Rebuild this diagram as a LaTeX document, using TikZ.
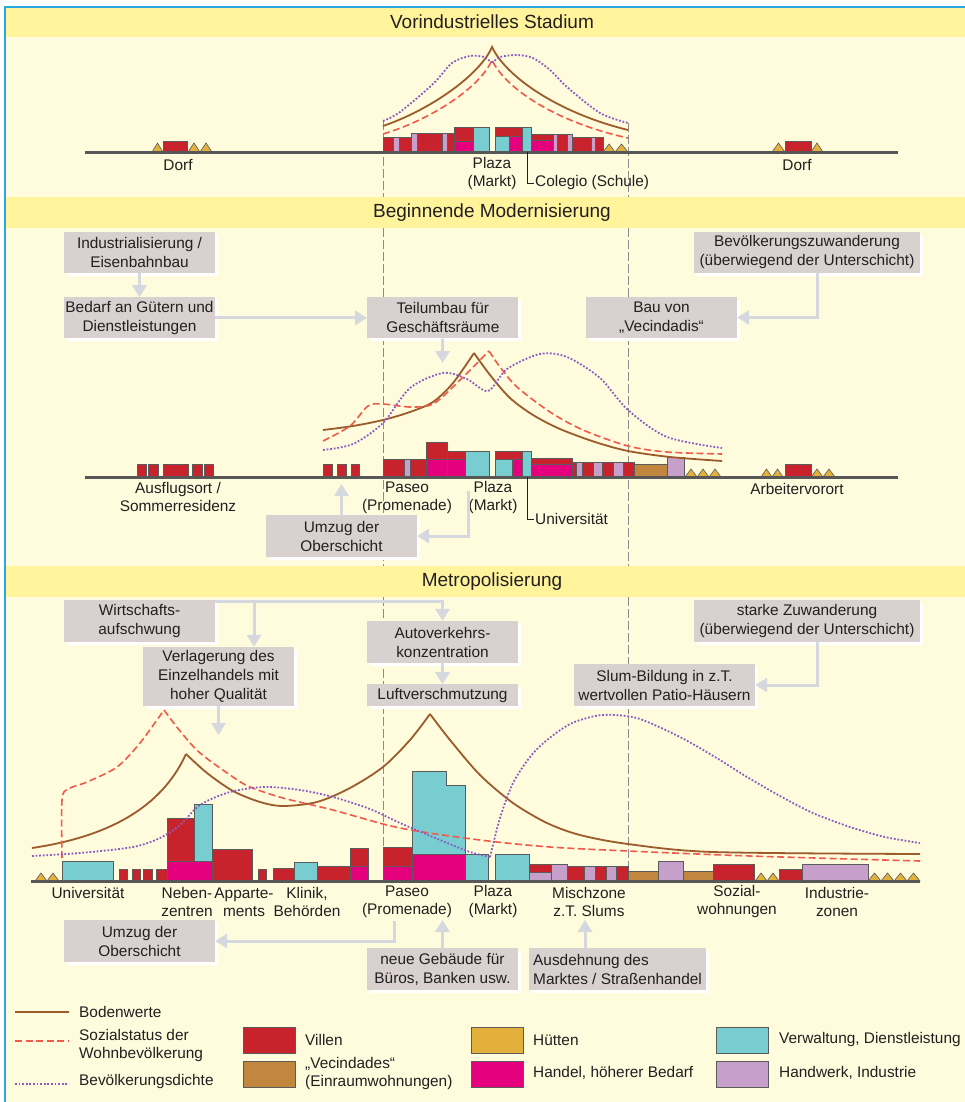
\documentclass[tikz,border=0pt]{standalone}
\usepackage{fontspec}
\setmainfont{Liberation Sans}
\usetikzlibrary{positioning,arrows.meta,shadows}

\definecolor{bgc}{HTML}{FFFBDD}
\definecolor{bandc}{HTML}{FFF49C}
\definecolor{framec}{HTML}{2AA8E0}
\definecolor{boxc}{HTML}{D9D1CF}
\definecolor{arrc}{HTML}{D5D8DF}
\definecolor{textc}{HTML}{231F20}
\definecolor{villac}{HTML}{C8232C}
\definecolor{handelc}{HTML}{E5007D}
\definecolor{verwc}{HTML}{78CDD0}
\definecolor{handwc}{HTML}{C6A0CA}
\definecolor{vecc}{HTML}{C2873E}
\definecolor{huetc}{HTML}{E3B03C}
\definecolor{edgec}{HTML}{5B5B5B}
\definecolor{groundc}{HTML}{575757}
\definecolor{sepc}{HTML}{8C8C8C}
\definecolor{bodenc}{HTML}{9B5B2B}
\definecolor{sozc}{HTML}{F15A4B}
\definecolor{dichtec}{HTML}{8A5CC2}

\newcommand{\lblfont}{\fontsize{15.4}{18}\selectfont}
\newcommand{\boxfont}{\fontsize{15.4}{19}\selectfont}
\newcommand{\titlefont}{\fontsize{19}{22}\selectfont}

\begin{document}
\begin{tikzpicture}[x=1pt, y=-1pt,
    box/.style = {fill=boxc, text=textc, align=center, inner sep=0pt, font=\boxfont,
      minimum width=151pt, minimum height=41pt,
      drop shadow={shadow xshift=3pt, shadow yshift=-3pt, fill=white, opacity=1}},
    lbl/.style = {text=textc, align=center, inner sep=1pt, font=\lblfont},
    titel/.style = {text=textc, font=\titlefont, inner sep=0pt},
    arr/.style = {draw=arrc, line width=3pt, -{Triangle[width=14pt,length=12pt]}},
    leader/.style = {draw=textc, line width=0.9pt},
    ground/.style = {draw=groundc, line width=2.2pt},
    sep/.style = {draw=sepc, line width=0.8pt, dash pattern=on 9pt off 3pt},
    boden/.style = {draw=bodenc, line width=1.8pt},
    sozial/.style = {draw=sozc, line width=1.6pt, dash pattern=on 7pt off 3.5pt},
    dichte/.style = {draw=dichtec, line width=1.8pt, dash pattern=on 1.8pt off 1.8pt},
    villa/.style = {fill=villac, draw=edgec, line width=0.7pt},
    handel/.style = {fill=handelc, draw=edgec, line width=0.7pt},
    verw/.style = {fill=verwc, draw=edgec, line width=0.7pt},
    handw/.style = {fill=handwc, draw=edgec, line width=0.7pt},
    vec/.style = {fill=vecc, draw=edgec, line width=0.7pt},
    huet/.style = {fill=huetc, draw=edgec, line width=0.6pt}]

    \useasboundingbox (0,0) rectangle (965,1102);
    \fill[white] (0,0) rectangle (965,1102);
    \fill[bgc] (5,7) rectangle (965,1102);
    \fill[bandc] (5,7) rectangle (965,37);
    \fill[bandc] (5,197) rectangle (965,228);
    \fill[bandc] (5,566) rectangle (965,597);
    \draw[framec, line width=1.5pt] (5,1102) -- (5,7) -- (965,7);

    \node[titel] (t_1) at (492,22) {Vorindustrielles Stadium};
    \node[titel] (t_2) at (492,213) {Beginnende Modernisierung};
    \node[titel] (t_3) at (492,582) {Metropolisierung};

    % Trennlinien
    \draw[sep] (383,121) -- (383,197);
    \draw[sep] (628,123) -- (628,197);
    \draw[sep] (383,228) -- (383,566);
    \draw[sep] (628,228) -- (628,566);
    \draw[sep] (383,597) -- (383,881);
    \draw[sep] (628,597) -- (628,881);

    % Vorindustrielles Stadium
    \filldraw[huet] (152,152) -- (157.5,143) -- (163,152) -- cycle;
    \filldraw[villa] (163,141) rectangle (187,152);
    \filldraw[huet] (188,152) -- (194,143) -- (200,152) -- (206,143) -- (212,152) -- cycle;
    \filldraw[villa] (383,137) rectangle (393,152);
    \filldraw[handw] (393,137) rectangle (399,152);
    \filldraw[villa] (399,137) rectangle (411,152);
    \filldraw[handw] (411,133) rectangle (417,152);
    \filldraw[villa] (417,133) rectangle (442,152);
    \filldraw[handw] (442,133) rectangle (447,152);
    \filldraw[villa] (447,133) rectangle (454,152);
    \filldraw[villa] (454,127) rectangle (473,141);
    \filldraw[handel] (454,141) rectangle (473,152);
    \filldraw[verw] (473,127) rectangle (489,152);
    \filldraw[villa] (495,127) rectangle (522,136);
    \filldraw[verw] (495,136) rectangle (509,152);
    \filldraw[handel] (509,136) rectangle (522,152);
    \filldraw[verw] (522,127) rectangle (531,152);
    \filldraw[villa] (531,134) rectangle (553,140);
    \filldraw[handel] (531,140) rectangle (553,152);
    \filldraw[handw] (553,134) rectangle (557,152);
    \filldraw[villa] (557,134) rectangle (567,152);
    \filldraw[handw] (567,134) rectangle (572,152);
    \filldraw[villa] (572,137) rectangle (591,152);
    \filldraw[handw] (591,137) rectangle (595,152);
    \filldraw[villa] (595,137) rectangle (603,152);
    \filldraw[huet] (603,152) -- (609,144) -- (615,152) -- (621.5,144) -- (628,152) -- cycle;
    \filldraw[huet] (772,152) -- (778.5,143) -- (785,152) -- cycle;
    \filldraw[villa] (785,141) rectangle (811,152);
    \filldraw[huet] (811,152) -- (817,143) -- (823,152) -- cycle;
    \draw[ground] (85,152.5) -- (898,152.5);

    \draw[boden] (383,126) .. controls (430,110) and (480,75) .. (492,47)
      .. controls (505,75) and (555,112) .. (628,130);
    \draw[sozial] (383,134) .. controls (430,120) and (480,88) .. (492,60)
      .. controls (505,88) and (555,122) .. (628,138);
    \draw[dichte] plot[smooth] coordinates {(383,121) (400,112) (433,84) (452,63) (470,56) (484,57) (492,62) (500,57) (517,55) (533,58) (550,70) (567,87) (600,113) (628,123)};

    \node[lbl] (dorf_1) at (178,165) {Dorf};
    \node[lbl] (dorf_2) at (797,165) {Dorf};
    \node[lbl] (plaza_1) at (492,174) {Plaza\\(Markt)};
    \node[lbl, anchor=west] (colegio) at (534,183) {Colegio (Schule)};
    \coordinate (col) at (527,152);
    \draw[leader] (col) |- (colegio.west);

    % Beginnende Modernisierung
    \filldraw[villa] (137,464) rectangle (146,477);
    \filldraw[villa] (148,464) rectangle (158,477);
    \filldraw[villa] (163,464) rectangle (188,477);
    \filldraw[villa] (192,464) rectangle (202,477);
    \filldraw[villa] (204,464) rectangle (213,477);
    \filldraw[villa] (323,464) rectangle (332,477);
    \filldraw[villa] (337,464) rectangle (346,477);
    \filldraw[villa] (351,464) rectangle (359,477);
    \filldraw[villa] (383,459) rectangle (404,477);
    \filldraw[handw] (404,459) rectangle (410,477);
    \filldraw[villa] (410,459) rectangle (426,477);
    \filldraw[villa] (426,442) rectangle (447,459);
    \filldraw[handel] (426,459) rectangle (447,477);
    \filldraw[villa] (447,451) rectangle (465,459);
    \filldraw[handel] (447,459) rectangle (465,477);
    \filldraw[verw] (465,451) rectangle (489,477);
    \filldraw[villa] (495,451) rectangle (522,459);
    \filldraw[verw] (495,459) rectangle (512,477);
    \filldraw[handel] (512,459) rectangle (522,477);
    \filldraw[verw] (522,451) rectangle (531,477);
    \filldraw[villa] (531,458) rectangle (572,464);
    \filldraw[handel] (531,464) rectangle (572,477);
    \filldraw[villa] (572,462) rectangle (576,477);
    \filldraw[handw] (576,462) rectangle (582,477);
    \filldraw[villa] (582,462) rectangle (593,477);
    \filldraw[handw] (593,462) rectangle (602,477);
    \filldraw[villa] (602,462) rectangle (613,477);
    \filldraw[handw] (613,462) rectangle (623,477);
    \filldraw[villa] (623,462) rectangle (634,477);
    \filldraw[vec] (634,464) rectangle (667,477);
    \filldraw[handw] (667,457) rectangle (684,477);
    \filldraw[huet] (685,477) -- (691,469) -- (697,477) -- (703,469) -- (709,477) -- (715,469) -- (721,477) -- cycle;
    \filldraw[huet] (761,477) -- (766.5,469) -- (772,477) -- (777.5,469) -- (783,477) -- cycle;
    \filldraw[villa] (785,464) rectangle (811,477);
    \filldraw[huet] (811,477) -- (817,469) -- (823,477) -- (829,469) -- (835,477) -- cycle;
    \draw[ground] (85,477.5) -- (898,477.5);

    \draw[boden] plot[smooth] coordinates {(323,430) (353,426) (383,420) (410,412) (433,402) (453,383) (474,353)};
    \draw[boden] plot[smooth] coordinates {(474,353) (490,375) (510,398) (533,415) (560,429) (595,442) (628,451) (670,457) (722,461)};
    \draw[sozial] plot[smooth] coordinates {(323,441) (350,426) (368,406) (383,404) (410,407) (433,404) (457,383) (489,351)};
    \draw[sozial] plot[smooth] coordinates {(489,351) (500,367) (517,387) (550,412) (583,430) (628,446) (667,452) (722,454)};
    \draw[dichte] plot[smooth] coordinates {(323,450) (353,444) (383,423) (410,388) (443,373) (467,379) (488,391) (507,369) (540,354) (567,357) (600,378) (628,410) (667,437) (722,448)};

    \node[lbl] (ausflug) at (178,497) {Ausflugsort /\\Sommerresidenz};
    \node[lbl] (paseo_2) at (407,498) {Paseo\\(Promenade)};
    \node[lbl] (plaza_2) at (493,498) {Plaza\\(Markt)};
    \node[lbl] (arbeiter) at (797,489) {Arbeitervorort};
    \node[lbl, anchor=west] (univ_2) at (534,519) {Universität};
    \coordinate (uni) at (527,477);
    \draw[leader] (uni) |- (univ_2.west);

    \node[box] (ind) at (139.5,252.5) {Industrialisierung /\\Eisenbahnbau};
    \node[box, below=24pt of ind] (bed) {Bedarf an Gütern und\\Dienstleistungen};
    \node[box, right=152pt of bed] (teil) {Teilumbau für\\Geschäftsräume};
    \node[box, minimum width=226pt] (zuw) at (807,252.5) {Bevölkerungszuwanderung\\(überwiegend der Unterschicht)};
    \node[box] (bau) at (661.5,317.5) {Bau von\\„Vecindadis“};
    \node[box, minimum height=42pt] (umz) at (341.5,536) {Umzug der\\Oberschicht};

    \coordinate (p2) at (442.5,363);
    \coordinate (p3) at (341.5,484);
    \coordinate (q1) at (468,491);
    \draw[arr] (ind) -- (bed);
    \draw[arr] (bed) -- (teil);
    \draw[arr] (teil) -- (p2);
    \draw[arr] ([xshift=10pt]zuw.south) |- (bau);
    \draw[arr] (umz) -- (p3);
    \draw[arr] (q1) |- (umz);

    % Metropolisierung
    \filldraw[huet] (35,881) -- (41,873) -- (47,881) -- (53,873) -- (59,881) -- cycle;
    \filldraw[verw] (62,861) rectangle (113,881);
    \filldraw[villa] (119,869) rectangle (127,881);
    \filldraw[villa] (132,869) rectangle (140,881);
    \filldraw[villa] (143,869) rectangle (152,881);
    \filldraw[villa] (156,869) rectangle (167,881);
    \filldraw[villa] (167,818) rectangle (194,861);
    \filldraw[verw] (194,804) rectangle (212,861);
    \filldraw[handel] (167,861) rectangle (212,881);
    \filldraw[villa] (212,849) rectangle (252,881);
    \filldraw[villa] (258,869) rectangle (266,881);
    \filldraw[villa] (273,868) rectangle (294,881);
    \filldraw[verw] (294,862) rectangle (317,881);
    \filldraw[villa] (317,866) rectangle (350,881);
    \filldraw[villa] (350,848) rectangle (368,866);
    \filldraw[handel] (350,866) rectangle (368,881);
    \filldraw[villa] (383,847) rectangle (412,866);
    \filldraw[handel] (383,866) rectangle (412,881);
    \filldraw[verw] (412,771) -- (446,771) -- (446,785) -- (465,785) -- (465,854) -- (412,854) -- cycle;
    \filldraw[handel] (412,854) rectangle (465,881);
    \filldraw[verw] (465,854) rectangle (488,881);
    \filldraw[verw] (495,854) rectangle (529,881);
    \filldraw[villa] (529,864) rectangle (551,872);
    \filldraw[handw] (529,872) rectangle (551,881);
    \filldraw[handw] (551,864) rectangle (567,881);
    \filldraw[villa] (567,866) rectangle (584,881);
    \filldraw[handw] (584,866) rectangle (595,881);
    \filldraw[villa] (595,866) rectangle (606,881);
    \filldraw[handw] (606,866) rectangle (616,881);
    \filldraw[villa] (616,866) rectangle (628,881);
    \filldraw[vec] (628,871) rectangle (658,881);
    \filldraw[handw] (658,861) rectangle (683,881);
    \filldraw[vec] (683,871) rectangle (713,881);
    \filldraw[villa] (713,864) rectangle (754,881);
    \filldraw[huet] (755,881) -- (761,873) -- (767,881) -- (773,873) -- (779,881) -- cycle;
    \filldraw[villa] (779,869) rectangle (802,881);
    \filldraw[handw] (802,864) rectangle (868,881);
    \filldraw[huet] (868,881) -- (874.5,873) -- (881,881) -- (887.5,873) -- (894,881) -- (900.5,873) -- (907,881) -- (913.5,873) -- (920,881) -- cycle;
    \draw[ground] (31,881.5) -- (920,881.5);

    \draw[boden] (32,848) .. controls (120,835) and (165,800) .. (186,754);
    \draw[boden] plot[smooth] coordinates {(186,754) (207,773) (233,791) (260,802) (283,806) (317,802) (350,788) (383,767) (410,740) (430,714)};
    \draw[boden] plot[smooth] coordinates {(430,714) (450,740) (480,775) (513,803) (547,823) (580,835) (628,844) (713,852) (920,854)};
    \draw[sozial] plot[smooth] coordinates {(62,858) (62,800) (68,789) (87,782) (117,767) (140,743) (164,710)};
    \draw[sozial] plot[smooth] coordinates {(164,710) (180,731) (200,753) (233,777) (250,787) (283,798) (333,810) (400,828) (480,840) (550,847) (628,851) (750,856) (920,861)};
    \draw[dichte] plot[smooth] coordinates {(32,856) (80,853) (133,847) (160,838) (180,825) (200,805) (230,792) (265,787) (300,790) (333,797) (370,809) (400,823) (440,840) (470,852) (490,857)};
    \draw[dichte] plot[smooth] coordinates {(490,857) (500,818) (513,783) (530,757) (547,740) (570,724) (595,716) (615,715) (640,719) (680,737) (715,757) (747,777) (780,796) (813,813) (850,827) (885,837) (920,843)};

    \node[lbl] (univ_3) at (88,893) {Universität};
    \node[lbl] (neben) at (187,902) {Neben-\\zentren};
    \node[lbl] (appart) at (244,902) {Apparte-\\ments};
    \node[lbl] (klinik) at (307,902) {Klinik,\\Behörden};
    \node[lbl] (paseo_3) at (407,902) {Paseo\\(Promenade)};
    \node[lbl] (plaza_3) at (493,902) {Plaza\\(Markt)};
    \node[lbl] (misch) at (589,902) {Mischzone\\z.T. Slums};
    \node[lbl] (sozial) at (737,902) {Sozial-\\wohnungen};
    \node[lbl] (industrie) at (837,902) {Industrie-\\zonen};

    \node[box, minimum height=42pt] (wirt) at (139.5,621) {Wirtschafts-\\aufschwung};
    \node[box, minimum height=59pt] (verl) at (218.5,676.5) {Verlagerung des\\Einzelhandels mit\\hoher Qualität};
    \node[box, minimum height=42pt] (auto) at (442.5,642) {Autoverkehrs-\\konzentration};
    \node[box, minimum height=22pt, below=21pt of auto] (luft) {Luftverschmutzung};
    \node[box, minimum width=226pt, minimum height=42pt] (stark) at (807,621) {starke Zuwanderung\\(überwiegend der Unterschicht)};
    \node[box, minimum width=181pt, minimum height=42pt] (slum) at (664.5,685) {Slum-Bildung in z.T.\\wertvollen Patio-Häusern};
    \node[box, minimum height=42pt] (umz_2) at (139.5,941) {Umzug der\\Oberschicht};
    \node[box, minimum height=42pt] (neue) at (442.5,969) {neue Gebäude für\\Büros, Banken usw.};
    \node[box, align=left, minimum width=177pt, minimum height=42pt] (ausd) at (617.5,969) {Ausdehnung des\\Marktes / Straßenhandel};

    \coordinate (abz) at (254,602);
    \coordinate (p5) at (218.5,735);
    \coordinate (q2) at (394,921);
    \coordinate (p6) at (442.5,920);
    \coordinate (p7) at (585,920);
    \draw[arr] ([yshift=-2pt]wirt.north east) -| (auto);
    \draw[arr] (abz) -- (abz |- verl.north);
    \draw[arr] (verl) -- (p5);
    \draw[arr] (auto) -- (luft);
    \draw[arr] ([xshift=10pt]stark.south) |- (slum);
    \draw[arr] (q2) |- (umz_2);
    \draw[arr] (neue) -- (p6);
    \draw[arr] (p7 |- ausd.north) -- (p7);

    % Legende
    \draw[boden] (15,1012) -- (69,1012);
    \draw[sozial] (15,1041) -- (69,1041);
    \draw[dichte] (15,1084) -- (69,1084);
    \node[lbl, anchor=west] (l_boden) at (78,1012) {Bodenwerte};
    \node[lbl, anchor=west, align=left] (l_sozial) at (78,1046) {Sozialstatus der\\Wohnbevölkerung};
    \node[lbl, anchor=west] (l_dichte) at (78,1082) {Bevölkerungsdichte};

    \filldraw[villa] (243,1027) rectangle (295,1053);
    \filldraw[vec] (243,1061) rectangle (295,1087);
    \filldraw[huet] (471,1027) rectangle (523,1053);
    \filldraw[handel] (471,1061) rectangle (523,1087);
    \filldraw[verw] (716,1027) rectangle (768,1053);
    \filldraw[handw] (716,1061) rectangle (768,1087);
    \node[lbl, anchor=west] (l_villa) at (304,1040) {Villen};
    \node[lbl, anchor=west, align=left] (l_vec) at (304,1074) {„Vecindades“\\(Einraumwohnungen)};
    \node[lbl, anchor=west] (l_huet) at (532,1040) {Hütten};
    \node[lbl, anchor=west] (l_handel) at (532,1073) {Handel, höherer Bedarf};
    \node[lbl, anchor=west] (l_verw) at (778,1040) {Verwaltung, Dienstleistung};
    \node[lbl, anchor=west] (l_handw) at (778,1073) {Handwerk, Industrie};
\end{tikzpicture}
\end{document}
